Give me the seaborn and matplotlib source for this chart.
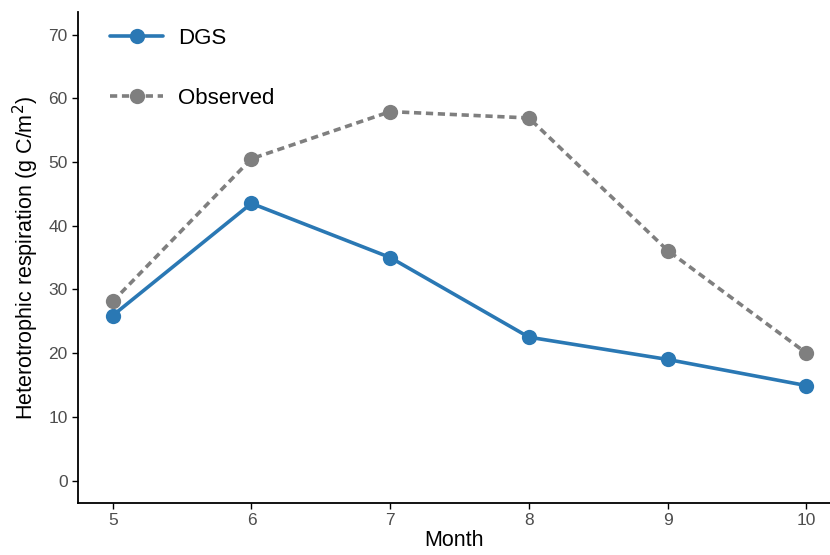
import matplotlib
matplotlib.use("Agg")
import matplotlib.pyplot as plt
import seaborn as sns
import pandas as pd

months = [5, 6, 7, 8, 9, 10]
dgs = [25.9, 43.5, 35.0, 22.5, 19.0, 14.9]
observed = [28.1, 50.5, 57.9, 56.9, 36.1, 20.0]
series_names = ["DGS", "Observed"]
y_ticks = [0, 10, 20, 30, 40, 50, 60, 70]

df = pd.DataFrame({
    "Month": months * 2,
    "value": dgs + observed,
    "series": [series_names[0]] * len(months) + [series_names[1]] * len(months),
})

sns.set_theme(style="white")
plt.rcParams["font.family"] = ["Liberation Sans", "DejaVu Sans"]

fig = plt.figure(figsize=(8.3, 5.55), dpi=100)
ax = fig.add_axes([0.094, 0.094, 0.906, 0.884])

palette = {"DGS": "#2a78b4", "Observed": "#7f7f7f"}
dashes = {"DGS": "", "Observed": (2, 1.3)}
sns.lineplot(data=df, x="Month", y="value", hue="series", style="series",
             palette=palette, dashes=dashes, markers={"DGS": "o", "Observed": "o"},
             markersize=11, markeredgewidth=0, linewidth=2.6, ax=ax)

ax.set_xlim(4.75, 10.17)
ax.set_ylim(-3.5, 73.5)
ax.set_xticks(months)
ax.set_yticks(y_ticks)
ax.tick_params(axis="both", labelsize=12.5, length=4, width=1,
               direction="out", bottom=True, left=True, color="black",
               labelcolor="#4d4d4d")
for s in ["top", "right"]:
    ax.spines[s].set_visible(False)
for s in ["left", "bottom"]:
    ax.spines[s].set_color("black")
    ax.spines[s].set_linewidth(1.3)

ax.set_xlabel("Month", fontsize=15.5, color="black", labelpad=1)
ax.set_ylabel(r"Heterotrophic respiration (g C/m$^2$)", fontsize=15.5, color="black", labelpad=5)

leg = ax.legend(loc="upper left", bbox_to_anchor=(0.025, 0.995), frameon=False,
                fontsize=16, labelspacing=1.75, handlelength=2.4, handletextpad=0.65,
                borderaxespad=0.2)
for h in leg.legend_handles:
    h.set_markersize(11)
for t in leg.get_texts():
    t.set_color("black")

fig.savefig("out.png", dpi=100)
